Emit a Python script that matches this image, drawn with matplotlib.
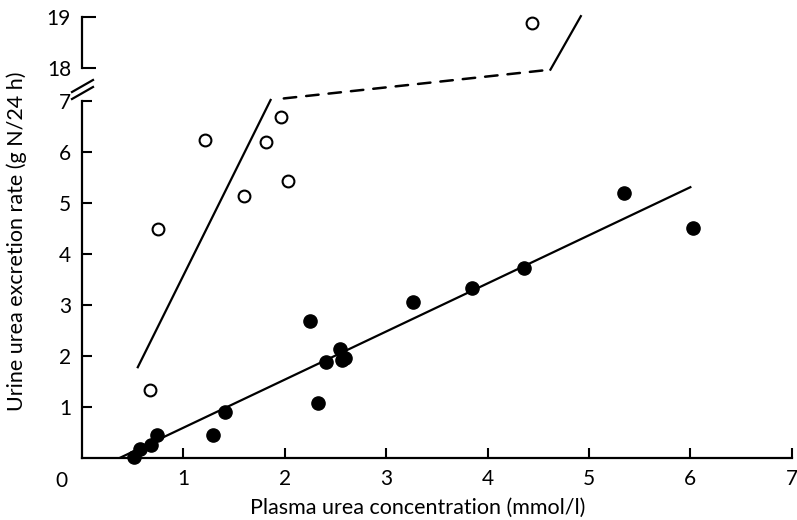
import numpy as np
import matplotlib.pyplot as plt
from matplotlib.patches import ConnectionPatch

# open circles (lower panel) and the one high value in the upper panel
open_x = [0.67, 0.75, 1.21, 1.60, 1.81, 1.96, 2.03]
open_y = [1.33, 4.49, 6.24, 5.14, 6.20, 6.69, 5.43]
open_hi_x = [4.44]
open_hi_y = [18.88]

# filled circles
fill_x = [0.51, 0.57, 0.68, 0.74, 1.29, 1.41, 2.25, 2.33, 2.41, 2.54, 2.56, 2.59,
          3.26, 3.85, 4.36, 5.35, 6.03]
fill_y = [0.02, 0.18, 0.25, 0.45, 0.45, 0.90, 2.69, 1.08, 1.88, 2.14, 1.92, 1.96,
          3.06, 3.33, 3.73, 5.20, 4.51]

# fitted lines
fit_x = [0.37, 6.0]
fit_y = [0.0, 5.31]
steep_x = [0.55, 1.86]
steep_y = [1.78, 7.02]
dash_start = (1.99, 7.05)
dash_end = (4.62, 17.97)
steep_hi_x = [4.62, 4.92]
steep_hi_y = [17.97, 19.02]

plt.rcParams['font.family'] = ['Lato', 'DejaVu Sans']

fig = plt.figure(figsize=(7.97, 5.2), dpi=100)
ax = fig.add_axes([0.1029, 0.1192, 0.8905, 0.6866])
ax_hi = fig.add_axes([0.1029, 0.869, 0.8905, 0.098])

for a in (ax, ax_hi):
    a.spines['top'].set_visible(False)
    a.spines['right'].set_visible(False)
    a.spines['left'].set_linewidth(1.6)
    a.tick_params(direction='in', length=7, width=1.5, labelsize=15, pad=8)
ax.spines['bottom'].set_linewidth(1.6)
ax_hi.spines['bottom'].set_visible(False)

ax.set_xlim(0, 7)
ax.set_ylim(0, 7)
ax.set_xticks(range(1, 8))
ax.set_yticks(range(1, 8))
ax_hi.set_xlim(0, 7)
ax_hi.set_ylim(18, 19)
ax_hi.set_yticks([18, 19])
ax_hi.set_xticks([])
ax_hi.tick_params(axis='y', length=10)

ax.text(-0.14, -0.45, '0', ha='right', va='center', fontsize=15)

ax.plot(fit_x, fit_y, color='black', lw=1.6)
ax.plot(steep_x, steep_y, color='black', lw=1.6, clip_on=False)
ax_hi.plot(steep_hi_x, steep_hi_y, color='black', lw=1.6, clip_on=False)
con = ConnectionPatch(xyA=dash_start, coordsA=ax.transData,
                      xyB=dash_end, coordsB=ax_hi.transData,
                      color='black', lw=1.8, linestyle=(0, (5, 4)))
fig.add_artist(con)

ax.plot(fill_x, fill_y, 'o', color='black', ms=9.5, clip_on=False, zorder=3)
ax.plot(open_x, open_y, 'o', mfc='white', mec='black', mew=1.5, ms=8.5,
        clip_on=False, zorder=3)
ax_hi.plot(open_hi_x, open_hi_y, 'o', mfc='white', mec='black', mew=1.5, ms=8.5,
           clip_on=False, zorder=3)

# axis break marks
for dy in (0, 7):
    fig.add_artist(plt.Line2D([72 / 797, 93 / 797],
                              [1 - (92 + dy) / 520, 1 - (80 + dy) / 520],
                              color='black', lw=1.6))

fig.text(418 / 797, 1 - 508 / 520, 'Plasma urea concentration (mmol/l)',
         ha='center', va='center', fontsize=15.5)
fig.text(0.021, 0.536, 'Urine urea excretion rate (g N/24 h)', rotation=90,
         ha='center', va='center', fontsize=15.5)

fig.savefig('out.png', dpi=100)
